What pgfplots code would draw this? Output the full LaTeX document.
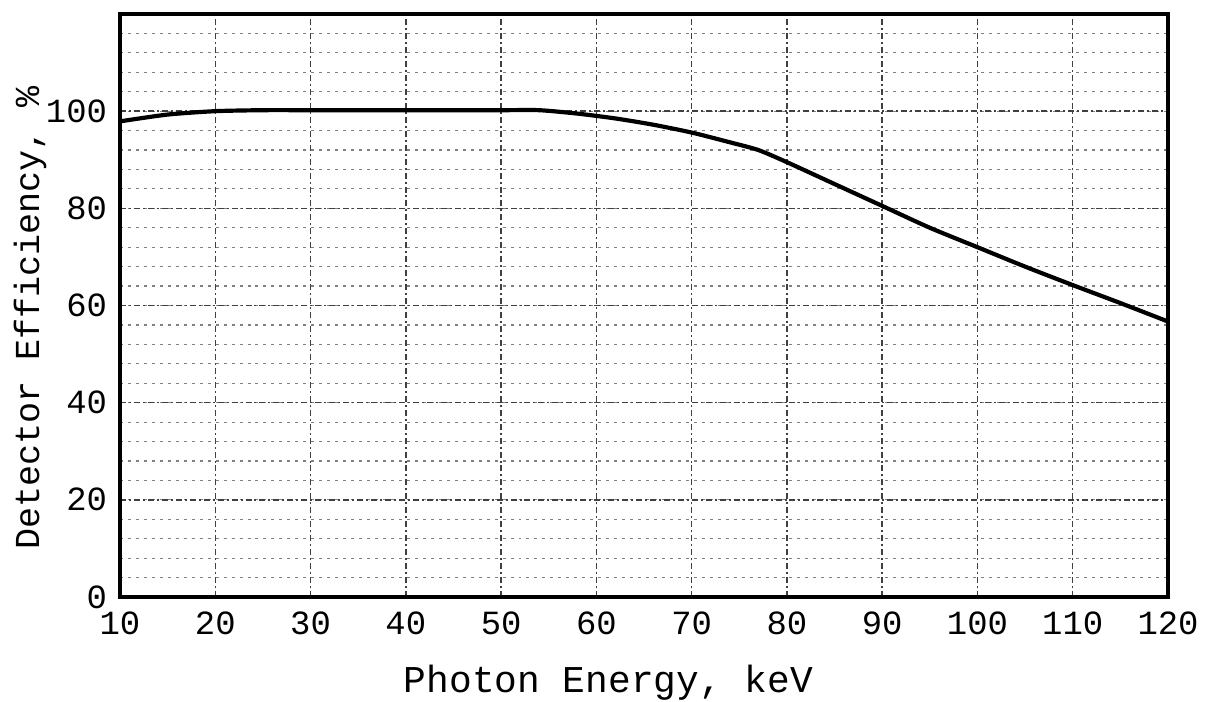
\documentclass[border=0pt]{standalone}
\usepackage{pgfplots}
\pgfplotsset{compat=1.18}
\usepackage{fontspec}
\setmainfont{Liberation Mono}
\begin{document}
\begin{tikzpicture}
\path[use as bounding box] (0,0) rectangle (603bp,351bp);
\begin{axis}[
  at={(60bp,52.5bp)}, anchor=south west,
  scale only axis, width=524bp, height=291.5bp,
  xmin=10, xmax=120, ymin=0, ymax=120,
  xtick={10,20,...,120}, ytick={0,20,...,100},
  minor ytick={4,8,...,116},
  major tick length=0pt, minor tick length=0pt,
  grid=both,
  major grid style={black!75, line width=0.7pt, dash pattern=on 3pt off 1.5pt on 1pt off 1.5pt},
  minor grid style={black!50, line width=0.6pt, dash pattern=on 1.5pt off 2.5pt},
  axis line style={line width=2.3pt, black},
  /pgf/number format/assume math mode=true,
  ticklabel style={font=\fontsize{17}{17}\selectfont},
  xticklabel style={yshift=-4bp},
  yticklabel style={xshift=-3bp},
  xlabel={Photon Energy, keV},
  ylabel={Detector Efficiency, \%},
  xlabel style={font=\fontsize{19}{19}\selectfont, at={(axis description cs:0.466,-0.147)}, anchor=center},
  ylabel style={font=\fontsize{17.6}{17.6}\selectfont, at={(axis description cs:-0.0859,0.478)}, anchor=center},
  clip=true,
]
\addplot[black, line width=2.1pt, smooth, tension=0.4] coordinates {
(10,97.9) (15,99.3) (20,100) (25,100.2) (30,100.2) (40,100.2) (50,100.2) (54,100.2)
(58,99.5) (62,98.5) (66,97.2) (70,95.6) (74,93.6) (77,92) (80,89.5) (85,85)
(90,80.5) (95,76) (100,72) (105,68) (110,64.2) (115,60.5) (120,56.7)
};
\end{axis}
\end{tikzpicture}
\end{document}
